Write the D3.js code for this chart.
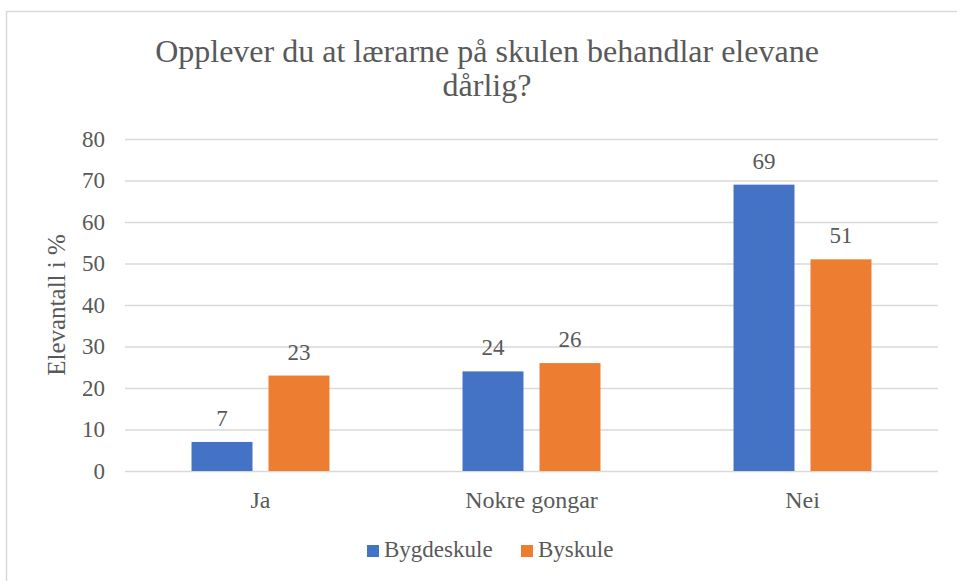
<!DOCTYPE html>
<html>
<head>
<meta charset="utf-8">
<script src="https://cdn.jsdelivr.net/npm/d3@7"></script>
<style>
  body { margin: 0; background: #fff; }
  text { font-family: "Liberation Serif", "Times New Roman", serif; fill: #595959; }
</style>
</head>
<body>
<div id="chart"></div>
<script>
(function(){
  'use strict';

  var categories = ['Ja', 'Nokre gongar', 'Nei'];
  var seriesNames = ['Bygdeskule', 'Byskule'];
  var bygdeskule = [7, 24, 69];
  var byskule = [23, 26, 51];
  var yTicks = [0, 10, 20, 30, 40, 50, 60, 70, 80];
  var colors = ['#4472C4', '#ED7D31'];

  var width = 957, height = 581;
  var plot = { left: 125, right: 938, top: 139, bottom: 471 };

  var svg = d3.select('#chart').append('svg')
    .attr('width', width)
    .attr('height', height);

  // chart border (only left/top visible in the picture)
  svg.append('rect')
    .attr('x', 6.5).attr('y', 11.5)
    .attr('width', 1000).attr('height', 1000)
    .attr('fill', 'none')
    .attr('stroke', '#d9d9d9')
    .attr('stroke-width', 1.5);

  // title
  var title = svg.append('text')
    .attr('text-anchor', 'middle')
    .style('font-size', '32px');
  title.append('tspan').attr('x', 487).attr('y', 62)
    .text('Opplever du at lærarne på skulen behandlar elevane');
  title.append('tspan').attr('x', 487).attr('y', 96)
    .text('dårlig?');

  var y = d3.scaleLinear().domain([0, 80]).range([plot.bottom, plot.top]);
  var x0 = d3.scaleBand().domain(categories).range([plot.left, plot.right]).padding(0);
  var x1 = d3.scaleBand().domain(seriesNames).range([0, x0.bandwidth()])
    .paddingInner(0.208).paddingOuter(0.864);

  // gridlines + y labels
  var yAxis = d3.axisLeft(y).tickValues(yTicks).tickSize(-(plot.right - plot.left)).tickPadding(20);
  var gy = svg.append('g')
    .attr('transform', 'translate(' + plot.left + ',0)')
    .call(yAxis);
  gy.select('.domain').remove();
  gy.selectAll('line').attr('stroke', '#d9d9d9').attr('stroke-width', 1.5);
  gy.selectAll('text')
    .attr('fill', '#595959')
    .style('font-size', '23px')
    .style('font-family', '"Liberation Serif", serif');

  // y axis title
  svg.append('text')
    .attr('transform', 'translate(65,305) rotate(-90)')
    .attr('text-anchor', 'middle')
    .style('font-size', '25px')
    .text('Elevantall i %');

  // x axis labels
  var xAxis = d3.axisBottom(x0).tickSize(0).tickPadding(20);
  var gx = svg.append('g')
    .attr('transform', 'translate(0,' + plot.bottom + ')')
    .call(xAxis);
  gx.select('.domain').remove();
  gx.selectAll('text')
    .attr('fill', '#595959')
    .style('font-size', '24px')
    .style('font-family', '"Liberation Serif", serif');

  // bars
  var rows = categories.map(function(c, i) {
    return { cat: c, values: [
      { name: seriesNames[0], value: bygdeskule[i], idx: 0 },
      { name: seriesNames[1], value: byskule[i], idx: 1 }
    ] };
  });

  var groups = svg.selectAll('g.group')
    .data(rows).enter()
    .append('g')
    .attr('class', 'group')
    .attr('transform', function(d) { return 'translate(' + x0(d.cat) + ',0)'; });

  groups.selectAll('rect')
    .data(function(d) { return d.values; }).enter()
    .append('rect')
    .attr('x', function(d) { return x1(d.name); })
    .attr('y', function(d) { return y(d.value); })
    .attr('width', x1.bandwidth())
    .attr('height', function(d) { return y(0) - y(d.value); })
    .attr('fill', function(d) { return colors[d.idx]; });

  groups.selectAll('text.label')
    .data(function(d) { return d.values; }).enter()
    .append('text')
    .attr('class', 'label')
    .attr('x', function(d) { return x1(d.name) + x1.bandwidth() / 2; })
    .attr('y', function(d) { return y(d.value) - 16; })
    .attr('text-anchor', 'middle')
    .style('font-size', '23px')
    .text(function(d) { return d.value; });

  // legend
  var legendX = [367, 521];
  var legend = svg.selectAll('g.legend')
    .data(seriesNames).enter()
    .append('g')
    .attr('class', 'legend')
    .attr('transform', function(d, i) { return 'translate(' + legendX[i] + ',545)'; });
  legend.append('rect')
    .attr('width', 12).attr('height', 12)
    .attr('fill', function(d, i) { return colors[i]; });
  legend.append('text')
    .attr('x', 17).attr('y', 12)
    .style('font-size', '23px')
    .text(function(d) { return d; });

})();
</script>
</body>
</html>
